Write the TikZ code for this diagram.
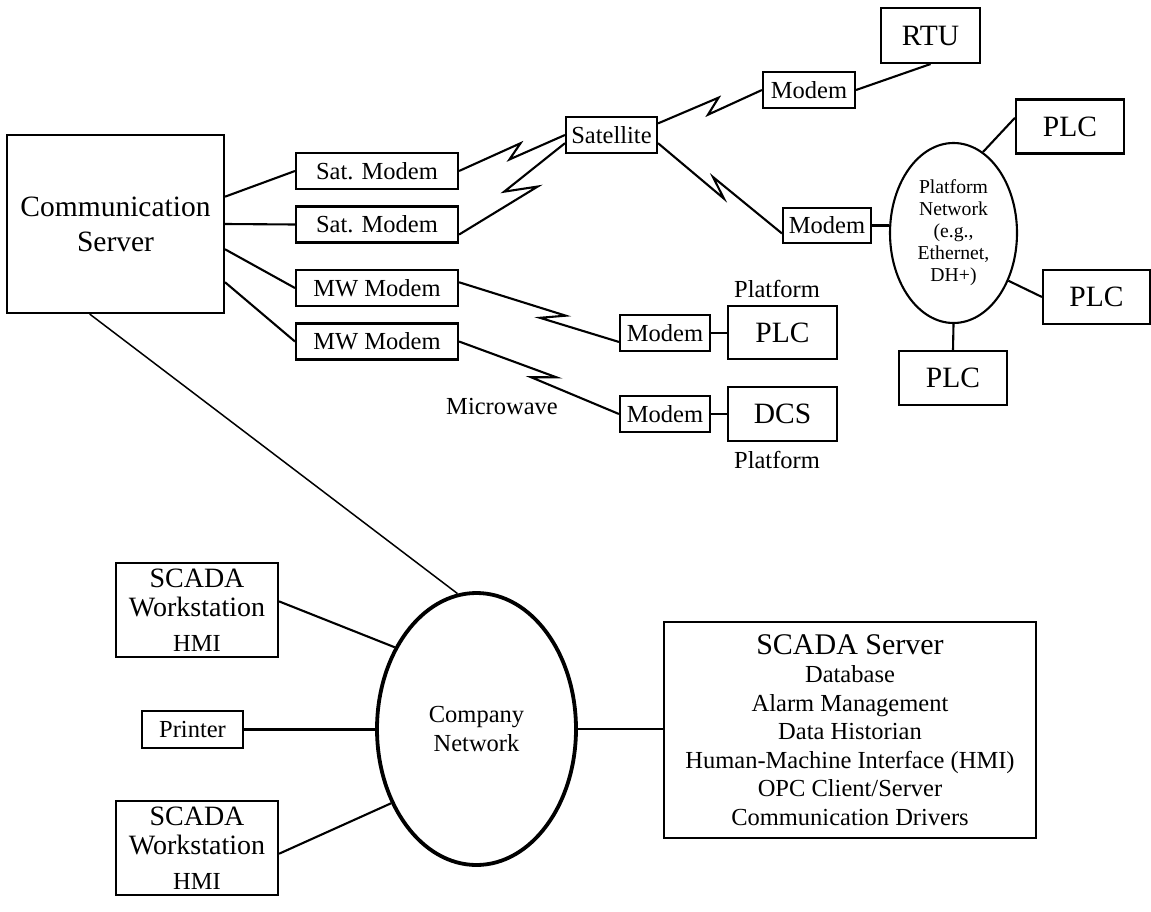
\documentclass[tikz,border=0pt]{standalone}
\usepackage{fontspec}
\setmainfont{Liberation Serif}
\usetikzlibrary{shapes.geometric, calc}

\newcommand{\lgtxt}{\fontsize{29.5}{35}\selectfont}
\newcommand{\smtxt}{\fontsize{24.5}{28.5}\selectfont}
\newcommand{\tntxt}{\fontsize{19.7}{22}\selectfont}
\newcommand{\wstxt}{\fontsize{28}{29}\selectfont}

% radio hop: start, end, kink A (fraction, offset), kink B (fraction, offset)
\newcommand{\wavelink}[6]{%
  \draw[link] (#1) -- ($(#1)!#3!(#2)!#4!90:(#2)$)
    -- ($(#1)!#5!(#2)!#6!90:(#2)$) -- (#2);
}

\begin{document}
\begin{tikzpicture}[x=1pt, y=-1pt, line width=2.1pt,
  box/.style={draw, rectangle, inner sep=0pt, align=center},
  smbox/.style={box, font=\smtxt, minimum height=36pt},
  lgbox/.style={box, font=\lgtxt, minimum width=108pt, minimum height=54pt},
  net/.style={draw, ellipse, inner sep=0pt, align=center},
  link/.style={line width=2.1pt}]
\useasboundingbox (0,0) rectangle (1151,912);

% === Communication side ===
\node[box, font=\lgtxt, minimum width=217pt, minimum height=178pt]
  (comm) at (115.5,224) {Communication\\Server};
\node[smbox, minimum width=162pt] (smod1) at (377,171) {Sat. Modem};
\node[smbox, minimum width=162pt] (smod2) at (377,224.5) {Sat. Modem};
\node[smbox, minimum width=162pt] (mw1) at (377,288) {MW Modem};
\node[smbox, minimum width=162pt] (mw2) at (377,341.5) {MW Modem};

% === Satellite link ===
\node[smbox, minimum width=91pt] (sat) at (611.5,135) {Satellite};
\node[smbox, minimum width=92pt] (tmod) at (809,90) {Modem};
\node[lgbox, minimum width=99pt, minimum height=55pt] (rtu) at (930.5,35.5) {RTU};
\node[smbox, minimum width=88pt, minimum height=35pt] (rmod) at (827,225.5) {Modem};

% === Platform network ===
\node[net, font=\tntxt, minimum width=127pt, minimum height=180pt]
  (pnet) at (953.5,233) {Platform\\Network\\(e.g.,\\Ethernet,\\DH+)};
\node[lgbox] (plc1) at (1070,126.5) {PLC};
\node[lgbox, minimum width=107pt] (plc2) at (1096.5,297) {PLC};
\node[lgbox] (plc3) at (953,378) {PLC};

% === Microwave link ===
\node[smbox, minimum width=90pt] (pmod) at (665,333) {Modem};
\node[lgbox, minimum width=109pt, minimum height=53pt] (ppl) at (782.5,332.5) {PLC};
\node[smbox, minimum width=90pt] (dmod) at (665,414) {Modem};
\node[lgbox, minimum width=109pt] (dcs) at (782.5,414) {DCS};
\node[font=\smtxt, inner sep=0pt] (pcap1) at (777,289) {Platform};
\node[font=\smtxt, inner sep=0pt] (pcap2) at (777,460) {Platform};
\node[font=\smtxt, inner sep=0pt] (mwcap) at (502,407) {Microwave};

% === Company network ===
\node[net, font=\smtxt, line width=3.8pt, minimum width=199pt, minimum height=272pt]
  (cnet) at (476.5,729) {Company\\Network};
\node[box, font=\wstxt, minimum width=162pt, minimum height=94pt]
  (ws1) at (197,610) {SCADA\\Workstation\\[6pt]\smtxt HMI};
\node[smbox, minimum width=101pt, minimum height=37pt] (prn) at (192.5,729.5) {Printer};
\node[box, font=\wstxt, minimum width=162pt, minimum height=94pt]
  (ws2) at (197,848) {SCADA\\Workstation\\[6pt]\smtxt HMI};
\node[box, font=\smtxt, minimum width=372pt, minimum height=216pt]
  (srv) at (850,730) {{\fontsize{30}{30}\selectfont SCADA Server}\\Database\\Alarm Management\\
  Data Historian\\Human-Machine Interface (HMI)\\OPC Client/Server\\Communication Drivers};

% === Connections ===
\draw[link] (comm.14) -- (smod1.west);
\draw[link] (comm.east) -- (smod2.west);
\draw[link] (comm.-13) -- (mw1.west);
\draw[link] (comm.-28.5) -- (mw2.west);
\draw[link, line width=1.5pt] (comm.254) -- (cnet.98);

\wavelink{smod1.east}{sat.west}{0.60}{6.5pt}{0.46}{-5.3pt}
\wavelink{smod2.-7}{sat.190}{0.65}{-15pt}{0.445}{3pt}
\wavelink{sat.14}{tmod.west}{0.60}{6pt}{0.46}{-7pt}
\wavelink{sat.-10}{rmod.190}{0.56}{-6pt}{0.42}{5pt}
\wavelink{mw1.4}{pmod.191}{0.654}{6pt}{0.517}{-5pt}
\wavelink{mw2.east}{dmod.west}{0.59}{7.6pt}{0.457}{-2.8pt}

\draw[link] (tmod.east) -- (rtu.south);
\draw[link] (rmod.east) -- (rmod.east -| pnet.west);
\draw[link] (pnet.70) -- (plc1.171);
\draw[link] (pnet.-41) -- (plc2.west);
\draw[link] (pnet.south) -- (plc3.north);
\draw[link] (pmod.east) -- (pmod.east -| ppl.west);
\draw[link] (dmod.east) -- (dcs.west);

\draw[link] (ws1.6) -- (cnet.135);
\draw[link] (prn.east) -- (prn.east -| cnet.west);
\draw[link] (ws2.-4) -- (cnet.221);
\draw[link] (cnet.east) -- (cnet.east -| srv.west);
\end{tikzpicture}
\end{document}
